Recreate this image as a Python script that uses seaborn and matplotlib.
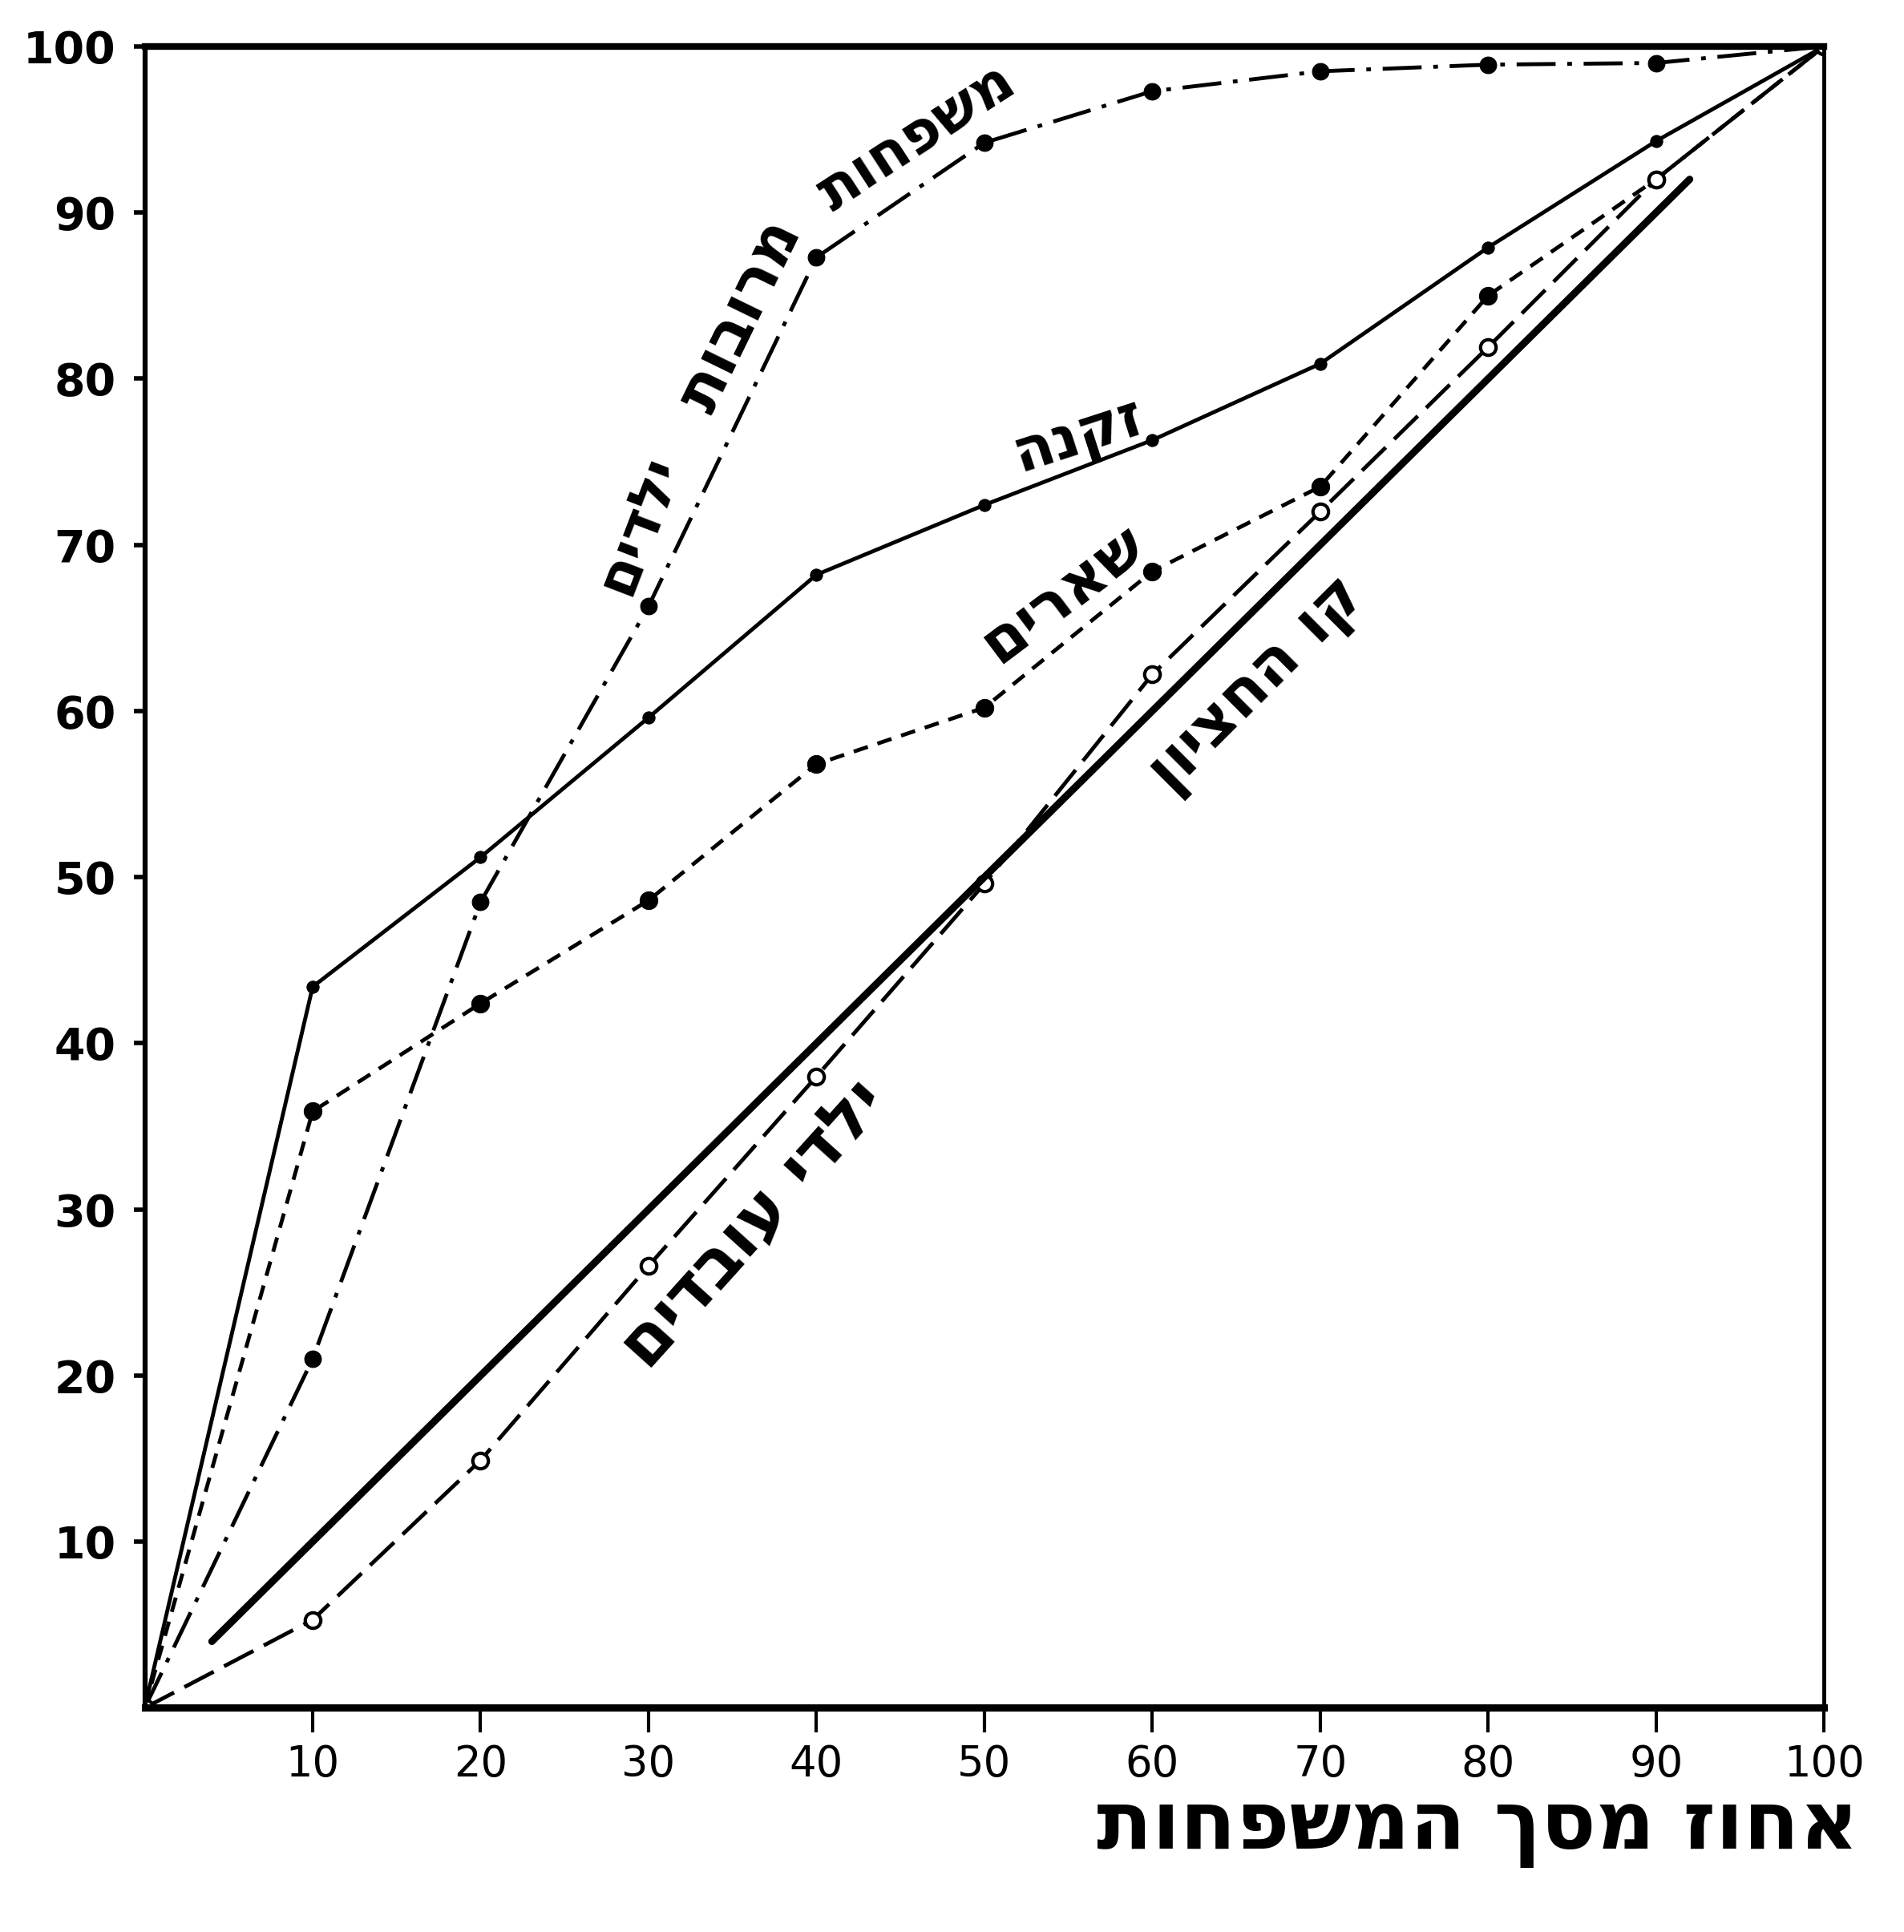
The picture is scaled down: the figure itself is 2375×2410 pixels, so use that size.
import matplotlib
matplotlib.use("Agg")
import matplotlib.pyplot as plt
import seaborn as sns
import pandas as pd

# ---------------- data ----------------
pct_families = [0, 10, 20, 30, 40, 50, 60, 70, 80, 90, 100]
large_families = [0, 21.0, 48.5, 66.3, 87.3, 94.2, 97.3, 98.5, 98.9, 99.0, 100]
elderly = [0, 43.4, 51.2, 59.6, 68.2, 72.4, 76.3, 80.9, 87.9, 94.3, 100]
survivors = [0, 35.9, 42.4, 48.6, 56.8, 60.2, 68.4, 73.5, 85.0, 92.0, 100]
workers_children = [0, 5.3, 14.9, 26.6, 38.0, 49.6, 62.2, 72.0, 81.9, 92.0, 100]
median_x = [4, 92]
median_y = [4, 92]
x_ticks = [10, 20, 30, 40, 50, 60, 70, 80, 90, 100]
y_ticks = [10, 20, 30, 40, 50, 60, 70, 80, 90, 100]

label_large_1 = "משפחות"
label_large_2 = "מרובות"
label_large_3 = "ילדים"
label_elderly = "זקנה"
label_survivors = "שארים"
label_workers = "ילדי עובדים"
label_median = "קו החציון"
x_label = "אחוז מסך המשפחות"


def heb(s):
    # matplotlib lays glyphs left-to-right; reverse for right-to-left display
    return s[::-1]


sns.set_theme(style="ticks")
plt.rcParams["font.family"] = ["DejaVu Sans"]

fig = plt.figure(figsize=(23.75, 24.10), dpi=100)
ax = fig.add_axes([0.076, 0.116, 0.882, 0.860])

df = pd.DataFrame({
    "x": pct_families,
    "large": large_families,
    "elderly": elderly,
    "survivors": survivors,
    "workers": workers_children,
})

LW = 3.5

# large families: dash-dot with filled dots
sns.lineplot(data=df, x="x", y="large", ax=ax, color="black", lw=LW,
             marker="o", markersize=15, markeredgecolor="black",
             markerfacecolor="black", errorbar=None, sort=False)
ax.lines[-1].set_dashes([10, 3, 1.2, 3])

# elderly: solid with small dots
sns.lineplot(data=df, x="x", y="elderly", ax=ax, color="black", lw=LW,
             marker="o", markersize=11, markeredgecolor="black",
             markerfacecolor="black", errorbar=None, sort=False)

# survivors: short dashes with filled dots
sns.lineplot(data=df, x="x", y="survivors", ax=ax, color="black", lw=LW,
             marker="o", markersize=16, markeredgecolor="black",
             markerfacecolor="black", errorbar=None, sort=False)
ax.lines[-1].set_dashes([3.8, 2.6])

# workers' children: long dashes with open circles
sns.lineplot(data=df, x="x", y="workers", ax=ax, color="black", lw=LW,
             marker="o", markersize=14, markeredgecolor="black",
             markeredgewidth=3, markerfacecolor="white",
             errorbar=None, sort=False)
ax.lines[-1].set_dashes([8.5, 3])

# median line
sns.lineplot(x=median_x, y=median_y, ax=ax, color="black", lw=6.5,
             errorbar=None, sort=False)

ax.set_xlim(0, 100)
ax.set_ylim(0, 100)
ax.set_xticks(x_ticks)
ax.set_yticks(y_ticks)
ax.set_xticklabels([str(t) for t in x_ticks], fontsize=38)
ax.set_yticklabels([str(t) for t in y_ticks], fontsize=40, fontweight="bold")
ax.tick_params(axis="x", direction="out", length=22, width=3, pad=10, colors="black")
ax.tick_params(axis="y", direction="out", length=10, width=4, pad=16, colors="black")
ax.set_xlabel("")
ax.set_ylabel("")

for side, lw in [("left", 4.5), ("bottom", 6.5), ("top", 6), ("right", 3.5)]:
    ax.spines[side].set_visible(True)
    ax.spines[side].set_linewidth(lw)
    ax.spines[side].set_color("black")

# in-plot labels
txt_kw = dict(color="black", fontweight="bold", ha="center",
              va="center", rotation_mode="anchor")
ax.text(46.0, 94.5, heb(label_large_1), rotation=33, fontsize=52, **txt_kw)
ax.text(35.5, 83.8, heb(label_large_2), rotation=64, fontsize=56, **txt_kw)
ax.text(29.5, 71.2, heb(label_large_3), rotation=69, fontsize=52, **txt_kw)
ax.text(55.6, 76.5, heb(label_elderly), rotation=18, fontsize=53, **txt_kw)
ax.text(54.7, 67.0, heb(label_survivors), rotation=37, fontsize=55, **txt_kw)
ax.text(36.3, 29.1, heb(label_workers), rotation=48, fontsize=61, **txt_kw)
ax.text(66.3, 61.5, heb(label_median), rotation=45, fontsize=56, **txt_kw)

# x-axis title, bottom right
fig.text(0.976, 0.043, heb(x_label), ha="right", va="baseline", fontsize=73,
         fontweight="bold", color="black")

fig.savefig("out.png", dpi=100, facecolor="white")
